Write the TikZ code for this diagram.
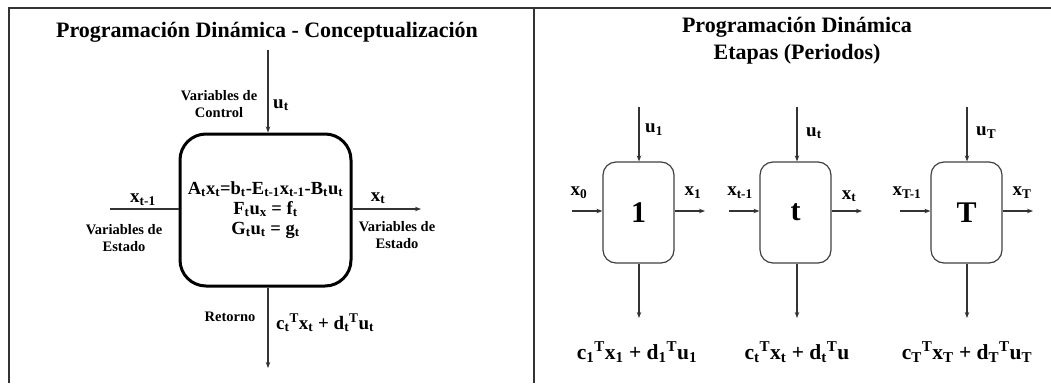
\documentclass[tikz,border=0pt]{standalone}
\usepackage{fontspec}
\setmainfont{Liberation Serif}
\usetikzlibrary{arrows.meta,positioning}
\tikzset{
  frameline/.style={line width=1.6pt, draw=black!80},
  bigbox/.style={draw=black, line width=3pt, rounded corners=26pt, minimum width=171pt, minimum height=152pt, align=center, font=\bfseries\fontsize{18.5}{20}\selectfont},
  stagebox/.style={draw=black!75, line width=1.2pt, rounded corners=13pt, minimum width=71pt, minimum height=101pt, font=\bfseries\fontsize{30}{32}\selectfont},
  flow/.style={line width=1.3pt, draw=black!80, -{Stealth[length=6pt,width=4.5pt]}},
  plainline/.style={line width=1.3pt, draw=black!80},
  lbl/.style={font=\bfseries\fontsize{14.5}{17}\selectfont, align=center, inner sep=0pt},
  sym/.style={font=\bfseries\fontsize{19}{20}\selectfont, inner sep=0pt},
  ret/.style={font=\bfseries\fontsize{21.5}{22}\selectfont, inner sep=0pt},
  ttl/.style={font=\bfseries\fontsize{22}{27}\selectfont, align=center, inner sep=0pt},
}
\newcommand{\sub}[1]{\textsubscript{#1}}
\newcommand{\supT}{\textsuperscript{T}}

\begin{document}
\begin{tikzpicture}[x=1pt,y=-1pt]
\useasboundingbox (0,0) rectangle (1051,383);
% frame
\draw[frameline] (9,383) -- (9,8) -- (1051,8);
\draw[frameline] (534,8) -- (534,383);

% left panel: conceptualization
\node[ttl] (ttlL) at (267,32) {Programación Dinámica - Conceptualización};
\node[bigbox] (ccb) at (265.5,210) {A\sub{t}x\sub{t}=b\sub{t}-E\sub{t-1}x\sub{t-1}-B\sub{t}u\sub{t}\\
  F\sub{t}u\sub{x} = f\sub{t}\\ G\sub{t}u\sub{t} = g\sub{t}};
\coordinate (uin) at (268,50);
\coordinate (xin) at (110,209);
\coordinate (xout) at (421,209);
\coordinate (rout) at (268,368);
\draw[flow] (uin) -- (uin |- ccb.north);
\draw[plainline] (xin) -- (xin -| ccb.west);
\draw[flow] (ccb.east |- xout) -- (xout);
\draw[flow] (rout |- ccb.south) -- (rout);
\node[lbl] (ctrl) at (219,104) {Variables de\\Control};
\node[sym, anchor=west] (ut) at (273,105) {u\sub{t}};
\node[sym] (xtm) at (143,200) {x\sub{t-1}};
\node[lbl] (estL) at (124,238) {Variables de\\Estado};
\node[sym] (xt) at (378,198) {x\sub{t}};
\node[lbl] (estR) at (397,235) {Variables de\\Estado};
\node[lbl] (retL) at (230,317) {Retorno};
\node[sym, anchor=west] (reteq) at (276,323) {c\sub{t}\supT x\sub{t} + d\sub{t}\supT u\sub{t}};

% right panel: stages
\node[ttl] (ttlR) at (797,41) {Programación Dinámica\\Etapas (Periodos)};
\node[stagebox] (s1) at (638.5,212.5) {1};
\node[stagebox] (st) at (795.5,212.5) {t};
\node[stagebox] (sT) at (966.5,212.5) {T};
\coordinate (u1) at (639,107);
\coordinate (uu) at (797,107);
\coordinate (uT) at (967,107);
\draw[flow] (u1) -- (u1 |- s1.north);
\draw[flow] (uu) -- (uu |- st.north);
\draw[flow] (uT) -- (uT |- sT.north);
\coordinate (r1) at (639,318);
\coordinate (ru) at (797,318);
\coordinate (rT) at (967,318);
\draw[flow] (r1 |- s1.south) -- (r1);
\draw[flow] (ru |- st.south) -- (ru);
\draw[flow] (rT |- sT.south) -- (rT);
\coordinate (x0) at (572,211);
\coordinate (x1) at (705,211);
\coordinate (xa) at (729,211);
\coordinate (xb) at (862,211);
\coordinate (xc) at (900,211);
\coordinate (xd) at (1033,211);
\draw[flow] (x0) -- (x0 -| s1.west);
\draw[flow] (s1.east |- x1) -- (x1);
\draw[flow] (xa) -- (xa -| st.west);
\draw[flow] (st.east |- xb) -- (xb);
\draw[flow] (xc) -- (xc -| sT.west);
\draw[flow] (sT.east |- xd) -- (xd);
\node[sym] (lx0) at (579,193) {x\sub{0}};
\node[sym] (lx1) at (693,193) {x\sub{1}};
\node[sym] (lxa) at (740,193) {x\sub{t-1}};
\node[sym] (lxb) at (849,196) {x\sub{t}};
\node[sym] (lxc) at (907,193) {x\sub{T-1}};
\node[sym] (lxd) at (1022,193) {x\sub{T}};
\node[sym, anchor=west] (lu1) at (645,130) {u\sub{1}};
\node[sym, anchor=west] (lut) at (806,133) {u\sub{t}};
\node[sym, anchor=west] (luT) at (976,133) {u\sub{T}};
\node[ret] (ret1) at (637,352) {c\sub{1}\supT x\sub{1} + d\sub{1}\supT u\sub{1}};
\node[ret] (rett) at (797,352) {c\sub{t}\supT x\sub{t} + d\sub{t}\supT u};
\node[ret] (retT) at (967,352) {c\sub{T}\supT x\sub{T} + d\sub{T}\supT u\sub{T}};
\end{tikzpicture}
\end{document}
